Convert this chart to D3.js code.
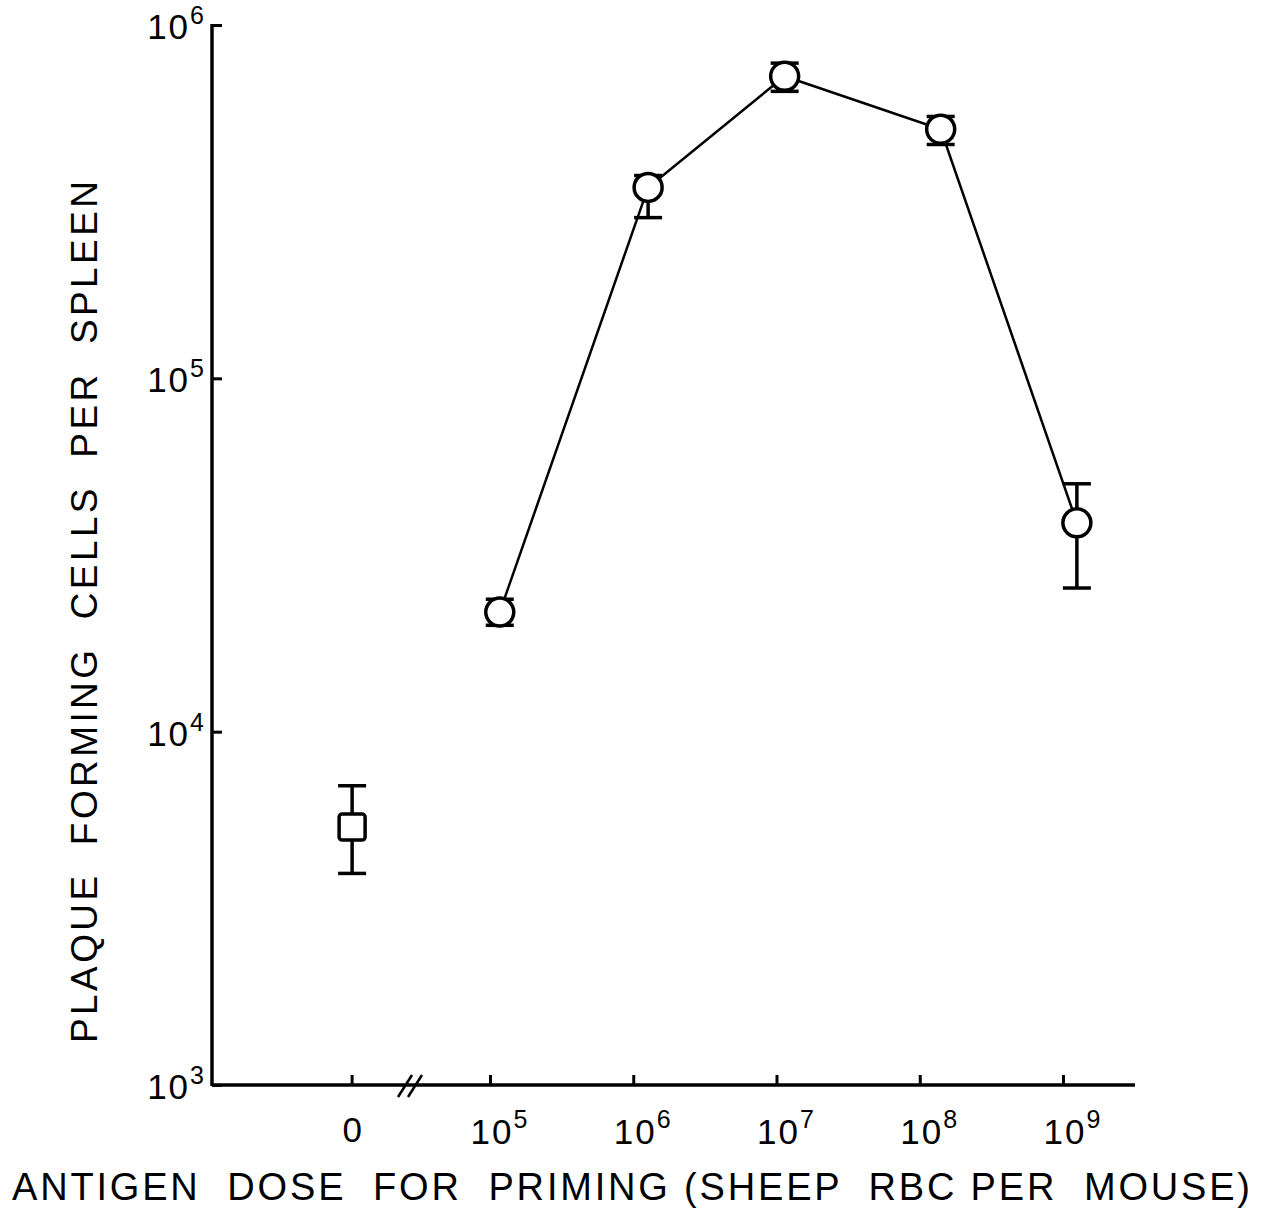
<!DOCTYPE html>
<html>
<head>
<meta charset="utf-8">
<script src="https://cdn.jsdelivr.net/npm/d3@7"></script>
<style>
  body { margin: 0; background: #fff; }
  text { font-family: "Liberation Sans", Arial, sans-serif; fill: #000; }
</style>
</head>
<body>
<div id="chart"></div>
<script>
// primed groups: dose and plaque forming cells per spleen
var doses   = [1.17e5, 1.27e6, 1.14e7, 1.4e8, 1.25e9];
var pfc     = [21800, 347000, 716000, 507000, 39000];
var pfcHigh = [23700, 375000, 780000, 551000, 50300];
var pfcLow  = [20000, 285000, 649000, 459000, 25500];

// unprimed control (dose 0)
var ctrl = {value: 5370, high: 7030, low: 3970};

var xTicks = [1e5, 1e6, 1e7, 1e8, 1e9];
var xTickExp = ["5", "6", "7", "8", "9"];
var yTicks = [1e3, 1e4, 1e5, 1e6];
var yTickExp = ["3", "4", "5", "6"];

var width = 1261, height = 1213;

var svg = d3.select("#chart").append("svg")
    .attr("width", width)
    .attr("height", height);

// scales
var x = d3.scaleLog().domain([1e5, 1e9]).range([490, 1063]);
var y = d3.scaleLog().domain([1e3, 1e6]).range([1085, 25]);
var xZero = x(1.09e4);   // where the "0" dose sits, left of the axis break
var xLeft = 212, xRight = 1135;

// Y axis
var yAxis = svg.append("g")
    .attr("transform", "translate(" + xLeft + ",0)")
    .call(d3.axisRight(y).tickValues(yTicks).tickSize(10).tickFormat(""));
yAxis.select(".domain").remove();
yAxis.selectAll(".tick line").attr("stroke", "#000").attr("stroke-width", 3);
svg.append("line")
    .attr("x1", xLeft).attr("x2", xLeft)
    .attr("y1", y(1e6) - 1).attr("y2", y(1e3) + 1)
    .attr("stroke", "#000").attr("stroke-width", 3.5);

yTicks.forEach(function(v, i) {
  var t = svg.append("text")
      .attr("x", xLeft - 6)
      .attr("y", y(v) + 14)
      .attr("text-anchor", "end")
      .style("font-size", "35px")
      .style("letter-spacing", "2px");
  t.append("tspan").text("10");
  t.append("tspan").attr("dy", -15).style("font-size", "25px").text(yTickExp[i]);
});

// X axis
var xAxis = svg.append("g")
    .attr("transform", "translate(0," + y(1e3) + ")")
    .call(d3.axisTop(x).tickValues(xTicks).tickSize(10).tickFormat(""));
xAxis.select(".domain").remove();
xAxis.selectAll(".tick line").attr("stroke", "#000").attr("stroke-width", 3);
svg.append("line")
    .attr("x1", xLeft).attr("x2", xRight)
    .attr("y1", y(1e3)).attr("y2", y(1e3))
    .attr("stroke", "#000").attr("stroke-width", 3.5);
svg.append("line")
    .attr("x1", xZero).attr("x2", xZero)
    .attr("y1", y(1e3)).attr("y2", y(1e3) - 10)
    .attr("stroke", "#000").attr("stroke-width", 3);

// axis break marks
[0, 10].forEach(function(off) {
  svg.append("line")
      .attr("x1", 398 + off).attr("y1", y(1e3) + 12)
      .attr("x2", 412 + off).attr("y2", y(1e3) - 10)
      .attr("stroke", "#000").attr("stroke-width", 2.5);
});

// x tick labels
svg.append("text")
    .attr("x", xZero).attr("y", y(1e3) + 57)
    .attr("text-anchor", "middle")
    .style("font-size", "35px")
    .text("0");
xTicks.forEach(function(v, i) {
  var t = svg.append("text")
      .attr("x", x(v) + 10).attr("y", y(1e3) + 59)
      .attr("text-anchor", "middle")
      .style("font-size", "35px")
      .style("letter-spacing", "2px");
  t.append("tspan").text("10");
  t.append("tspan").attr("dy", -16).style("font-size", "25px").text(xTickExp[i]);
});

// axis titles
svg.append("text")
    .attr("transform", "translate(97,612) rotate(-90)")
    .attr("text-anchor", "middle")
    .attr("textLength", 862)
    .attr("lengthAdjust", "spacing")
    .style("font-size", "37px")
    .style("white-space", "pre")
    .text("PLAQUE  FORMING  CELLS  PER  SPLEEN");

svg.append("text")
    .attr("x", 12).attr("y", 1200)
    .attr("textLength", 1238)
    .attr("lengthAdjust", "spacing")
    .style("font-size", "38px")
    .style("white-space", "pre")
    .text("ANTIGEN  DOSE  FOR  PRIMING (SHEEP  RBC PER  MOUSE)");

// connecting line
var pts = doses.map(function(d, i) { return [x(d), y(pfc[i])]; });
svg.append("path")
    .attr("d", d3.line()(pts))
    .attr("fill", "none")
    .attr("stroke", "#000")
    .attr("stroke-width", 2.5);

// error bars
function errBar(cx, hi, lo) {
  var g = svg.append("g").attr("stroke", "#000").attr("stroke-width", 3.5);
  g.append("line").attr("x1", cx).attr("x2", cx).attr("y1", y(hi)).attr("y2", y(lo));
  g.append("line").attr("x1", cx - 14).attr("x2", cx + 14).attr("y1", y(hi)).attr("y2", y(hi));
  g.append("line").attr("x1", cx - 14).attr("x2", cx + 14).attr("y1", y(lo)).attr("y2", y(lo));
}
doses.forEach(function(d, i) { errBar(x(d), pfcHigh[i], pfcLow[i]); });
errBar(xZero, ctrl.high, ctrl.low);

// circles
svg.selectAll("circle.pt")
  .data(doses)
  .enter()
  .append("circle")
    .attr("class", "pt")
    .attr("cx", function(d) { return x(d); })
    .attr("cy", function(d, i) { return y(pfc[i]); })
    .attr("r", 14)
    .attr("fill", "#fff")
    .attr("stroke", "#000")
    .attr("stroke-width", 3.5);

// control square
svg.append("rect")
    .attr("x", xZero - 13).attr("y", y(ctrl.value) - 13)
    .attr("width", 26).attr("height", 26)
    .attr("rx", 3)
    .attr("fill", "#fff")
    .attr("stroke", "#000")
    .attr("stroke-width", 3.5);
</script>
</body>
</html>
